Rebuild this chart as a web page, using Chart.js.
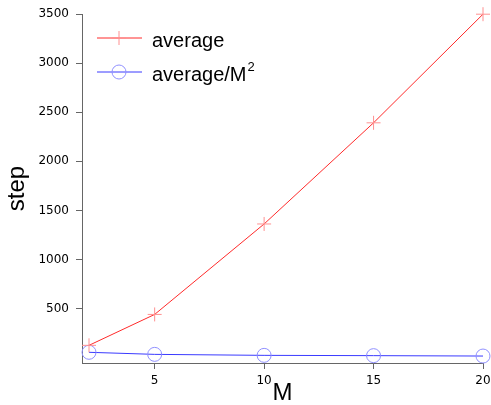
<!DOCTYPE html>
<html>
<head>
<meta charset="utf-8">
<script src="https://cdn.jsdelivr.net/npm/chart.js@4.4.1/dist/chart.umd.min.js"></script>
<style>
  html, body { margin: 0; padding: 0; background: #fff; }
</style>
</head>
<body>
<canvas id="stepChart" width="491" height="405"></canvas>
<script>
// values
const mValues = [2, 5, 10, 15, 20];
const averageSteps = [125, 440, 1362, 2393, 3500];
const averagePerM2 = [54, 33, 23, 20, 16];
const xTicks = [5, 10, 15, 20];
const yTicks = [500, 1000, 1500, 2000, 2500, 3000, 3500];

// legend with a line through the marker, like the original
const lineLegend = {
    id: 'lineLegend',
    afterDraw(chart) {
        const ctx = chart.ctx;
        chart.data.datasets.forEach((ds, i) => {
            const y = 38 + i * 34;
            ctx.save();
            ctx.lineWidth = 1;
            ctx.strokeStyle = ds.borderColor;
            ctx.beginPath();
            ctx.moveTo(97, y);
            ctx.lineTo(142, y);
            ctx.stroke();

            ctx.strokeStyle = ds.pointBorderColor;
            ctx.beginPath();
            if (ds.pointStyle === 'cross') {
                ctx.moveTo(119 - 7, y); ctx.lineTo(119 + 7, y);
                ctx.moveTo(119, y - 7); ctx.lineTo(119, y + 7);
            } else {
                ctx.arc(119, y, 7, 0, Math.PI * 2);
            }
            ctx.stroke();

            ctx.fillStyle = '#000';
            ctx.textBaseline = 'alphabetic';
            ctx.font = '20px "Liberation Sans", Arial, sans-serif';
            let text = ds.label;
            let sup = '';
            if (text.endsWith('²')) { text = text.slice(0, -1); sup = '2'; }
            ctx.fillText(text, 152, y + 9);
            if (sup) {
                const w = ctx.measureText(text).width;
                ctx.font = '13px "Liberation Sans", Arial, sans-serif';
                ctx.fillText(sup, 152 + w + 1, y - 1);
            }
            ctx.restore();
        });
    }
};

const tickFont = { family: '"DejaVu Sans", sans-serif', size: 12 };
const titleFont = { family: '"Liberation Sans", Arial, sans-serif', size: 24, lineHeight: 1 };

const ctx = document.getElementById('stepChart').getContext('2d');
new Chart(ctx, {
    type: 'line',
    data: {
        datasets: [{
            label: 'average',
            data: mValues.map((m, i) => ({ x: m, y: averageSteps[i] })),
            borderColor: '#ff2a2a',
            borderWidth: 1,
            pointStyle: 'cross',
            pointRadius: 7,
            pointBorderColor: '#ff9090',
            pointBorderWidth: 1,
            fill: false,
            clip: false
        }, {
            label: 'average/M²',
            data: mValues.map((m, i) => ({ x: m, y: averagePerM2[i] })),
            borderColor: '#3a3aff',
            borderWidth: 1,
            pointStyle: 'circle',
            pointRadius: 7,
            pointBorderColor: '#9090ff',
            pointBackgroundColor: 'rgba(0,0,0,0)',
            pointBorderWidth: 1,
            fill: false,
            clip: false
        }]
    },
    options: {
        responsive: false,
        animation: false,
        devicePixelRatio: 1,
        layout: { padding: { top: 12, right: 0, left: 0, bottom: 0 } },
        plugins: {
            legend: { display: false },
            tooltip: { enabled: false }
        },
        scales: {
            x: {
                type: 'linear',
                min: 1.68,
                max: 20,
                afterFit: s => { s.height = 42; s.paddingRight = 7; },
                afterBuildTicks: s => { s.ticks = xTicks.map(v => ({ value: v })); },
                grid: { drawOnChartArea: false, drawTicks: true, tickLength: 6, color: '#666' },
                border: { color: '#666', width: 1 },
                ticks: { padding: 5, color: '#000', font: tickFont, callback: v => String(v) },
                title: {
                    display: true, text: 'M', color: '#000',
                    font: titleFont,
                    padding: { top: 0, bottom: 0 }
                }
            },
            y: {
                type: 'linear',
                min: -55,
                max: 3500,
                afterFit: s => { s.width = 82; },
                afterBuildTicks: s => { s.ticks = yTicks.map(v => ({ value: v })); },
                grid: { drawOnChartArea: false, drawTicks: true, tickLength: 6, color: '#666' },
                border: { color: '#666', width: 1 },
                ticks: { padding: 7, color: '#000', font: tickFont, callback: v => String(v) },
                title: {
                    display: true, text: 'step', color: '#000',
                    font: titleFont,
                    padding: { top: 5, bottom: 0 }
                }
            }
        }
    },
    plugins: [lineLegend]
});
</script>
</body>
</html>
